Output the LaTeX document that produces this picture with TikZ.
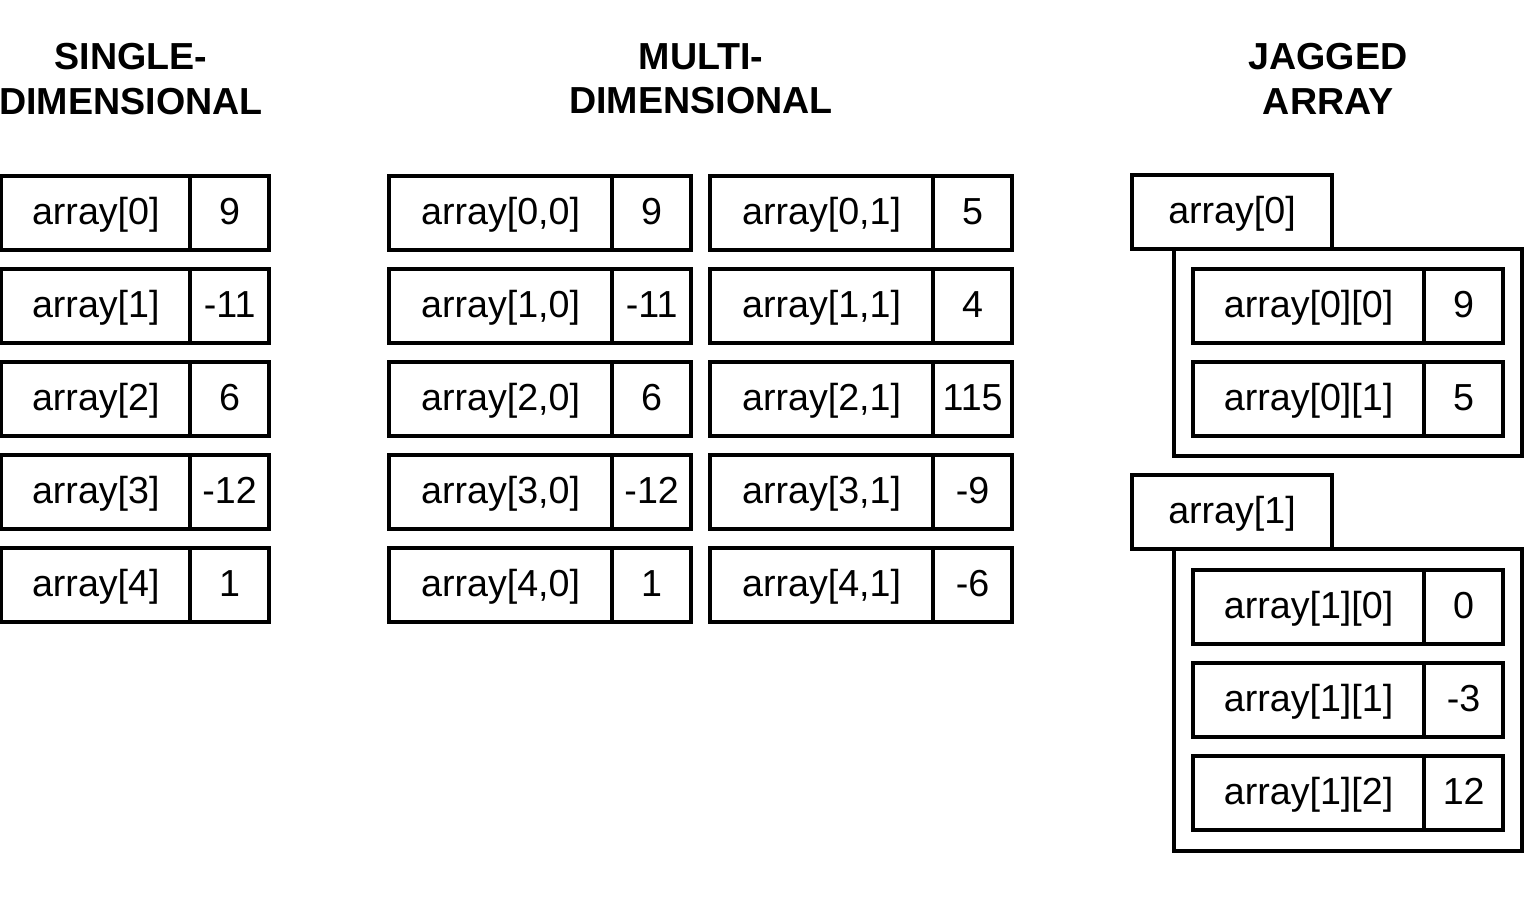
\documentclass[tikz,border=0pt]{standalone}
\usepackage{fontspec}
\setmainfont{Liberation Sans}
\usetikzlibrary{fit}
\begin{document}
\begin{tikzpicture}[x=0.01cm, y=-0.01cm,
    cell/.style={draw,
        rectangle,
        line width=1pt,
        inner sep=0pt,
        outer sep=0pt,
        minimum height=0.74cm,
        text height=0.3cm,
        text depth=0.07cm,
        font=\fontsize{10.7}{12}\selectfont
    },
    keycell/.style={cell, anchor=west},
    valcell/.style={cell, anchor=west, minimum width=0.79cm},
    heading/.style={align=center, font=\bfseries\fontsize{10.7}{12.6}\selectfont},
    wrapbox/.style={draw, rectangle, line width=1pt, outer sep=0pt, inner xsep=0.19cm, inner ysep=0.2cm}
]
    \useasboundingbox (0,0) rectangle (1525,896);

    % headings
    \node[heading] (hsingle) at (131,79) {SINGLE-\\DIMENSIONAL};
    \node[heading] (hmulti) at (701,79) {MULTI-\\DIMENSIONAL};
    \node[heading] (hjagged) at (1328,79) {JAGGED\\ARRAY};

    % single-dimensional
    \foreach \i/\v in {0/9,1/-11,2/6,3/-12,4/1}{
        \node[keycell, minimum width=1.885cm] (sk\i) at (1.5,213+93*\i) {array[\i]};
        \node[valcell] (sv\i) at (sk\i.east) {\v};
    }

    % multi-dimensional
    \foreach \i/\a/\b in {0/9/5,1/-11/4,2/6/115,3/-12/-9,4/1/-6}{
        \node[keycell, minimum width=2.23cm] (mka\i) at (389,213+93*\i) {array[\i,0]};
        \node[valcell] (mva\i) at (mka\i.east) {\a};
        \node[keycell, minimum width=2.23cm] (mkb\i) at (710,213+93*\i) {array[\i,1]};
        \node[valcell] (mvb\i) at (mkb\i.east) {\b};
    }

    % jagged array
    \foreach \i/\v in {0/9,1/5}{
        \node[keycell, minimum width=2.31cm] (jka\i) at (1193,306+93*\i) {array[0][\i]};
        \node[valcell] (jva\i) at (jka\i.east) {\v};
    }
    \node[wrapbox, fit=(jka0)(jva1)] (jwrap0) {};
    \node[cell, minimum width=2cm, anchor=south west, fill=white]
        (jl0) at ([xshift=-0.42cm]jwrap0.north west) {array[0]};

    \foreach \i/\v in {0/0,1/-3,2/12}{
        \node[keycell, minimum width=2.31cm] (jkb\i) at (1193,607+93*\i) {array[1][\i]};
        \node[valcell] (jvb\i) at (jkb\i.east) {\v};
    }
    \node[wrapbox, fit=(jkb0)(jvb2), inner ysep=0.21cm] (jwrap1) {};
    \node[cell, minimum width=2cm, anchor=south west, fill=white]
        (jl1) at ([xshift=-0.42cm]jwrap1.north west) {array[1]};

\end{tikzpicture}
\end{document}
